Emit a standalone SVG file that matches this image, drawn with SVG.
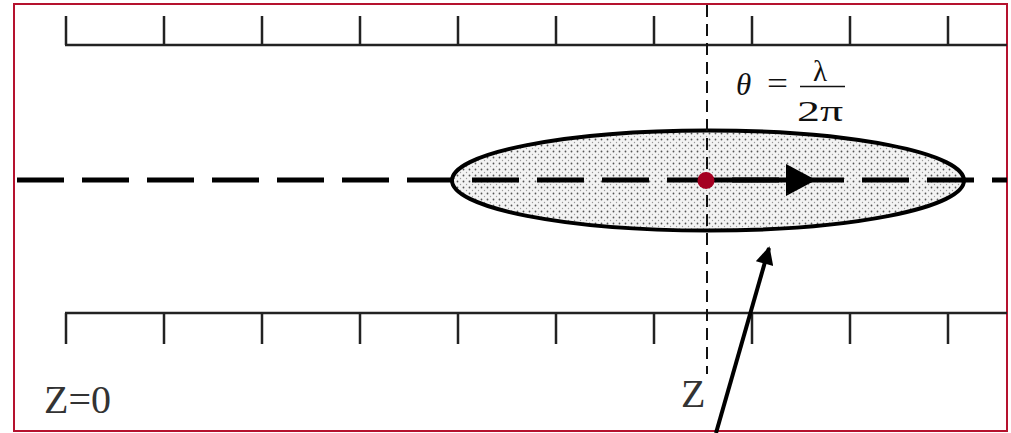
<svg xmlns="http://www.w3.org/2000/svg" width="1011" height="433" viewBox="0 0 1011 433">
  <defs>
    <pattern id="stipple" width="6" height="6" patternUnits="userSpaceOnUse">
      <rect width="6" height="6" fill="#f3f3f3"/>
      <circle cx="1.5" cy="1.5" r="0.9" fill="#555"/>
      <circle cx="4.5" cy="4.5" r="0.7" fill="#999"/>
    </pattern>
    <marker id="ah" viewBox="0 0 10 10" refX="9" refY="5" markerWidth="5" markerHeight="4.5" orient="auto" markerUnits="strokeWidth">
      <path d="M0,0 L10,5 L0,10 Z" fill="#000"/>
    </marker>
    <style>
      .rule { stroke:#222; stroke-width:2.5; fill:none; }
      .lbl { font-family:"Liberation Serif","Times New Roman",serif; fill:#333; }
      .math { font-family:"Liberation Serif","Times New Roman",serif; fill:#111; }
    </style>
  </defs>
  <rect x="0" y="0" width="1011" height="433" fill="#fff"/>
  <rect x="14" y="4" width="993" height="427" fill="none" stroke="#b5122e" stroke-width="2"/>

  <g id="top-ruler" class="rule">
    <line x1="65" y1="45" x2="1007" y2="45"/>
    <path d="M66,16V45 M164,16V45 M262,16V45 M360,16V45 M458,16V45 M556,16V45 M654,16V45 M752,16V45 M850,16V45 M948,16V45"/>
  </g>
  <g id="bottom-ruler" class="rule">
    <line x1="65" y1="313" x2="1007" y2="313"/>
    <path d="M66,313V344 M164,313V344 M262,313V344 M360,313V344 M458,313V344 M556,313V344 M654,313V344 M752,313V344 M850,313V344 M948,313V344"/>
  </g>

  <g id="beam">
    <ellipse cx="708" cy="180.5" rx="256" ry="50" fill="url(#stipple)" stroke="#000" stroke-width="4"/>
  </g>

  <g id="axis">
    <line x1="17" y1="180" x2="1007" y2="180" stroke="#000" stroke-width="5" stroke-dasharray="47 18"/>
    <line x1="707" y1="180" x2="790" y2="180" stroke="#000" stroke-width="5"/>
    <polygon points="786,164 816,180 786,196" fill="#000"/>
  </g>

  <g id="z-line">
    <line x1="707" y1="5" x2="707" y2="374" stroke="#111" stroke-width="2" stroke-dasharray="12 7"/>
  </g>

  <g id="particle">
    <circle cx="706" cy="180.5" r="8.5" fill="#a50021"/>
  </g>

  <g id="formula">
    <text class="math" x="736" y="95" font-size="31" font-style="italic">θ</text>
    <text class="math" x="767" y="94" font-size="31" textLength="21" lengthAdjust="spacingAndGlyphs">=</text>
    <text class="math" x="813" y="81" font-size="29">λ</text>
    <line x1="800" y1="86.5" x2="845" y2="86.5" stroke="#111" stroke-width="1.5"/>
    <text class="math" x="797" y="121" font-size="29" textLength="46" lengthAdjust="spacingAndGlyphs">2π</text>
  </g>

  <g id="labels">
    <text class="lbl" x="44" y="413" font-size="40">Z=0</text>
    <text class="lbl" x="681" y="407" font-size="40">Z</text>
  </g>

  <g id="connectors">
    <line x1="716" y1="433" x2="769" y2="248" stroke="#000" stroke-width="4" marker-end="url(#ah)"/>
  </g>
</svg>
